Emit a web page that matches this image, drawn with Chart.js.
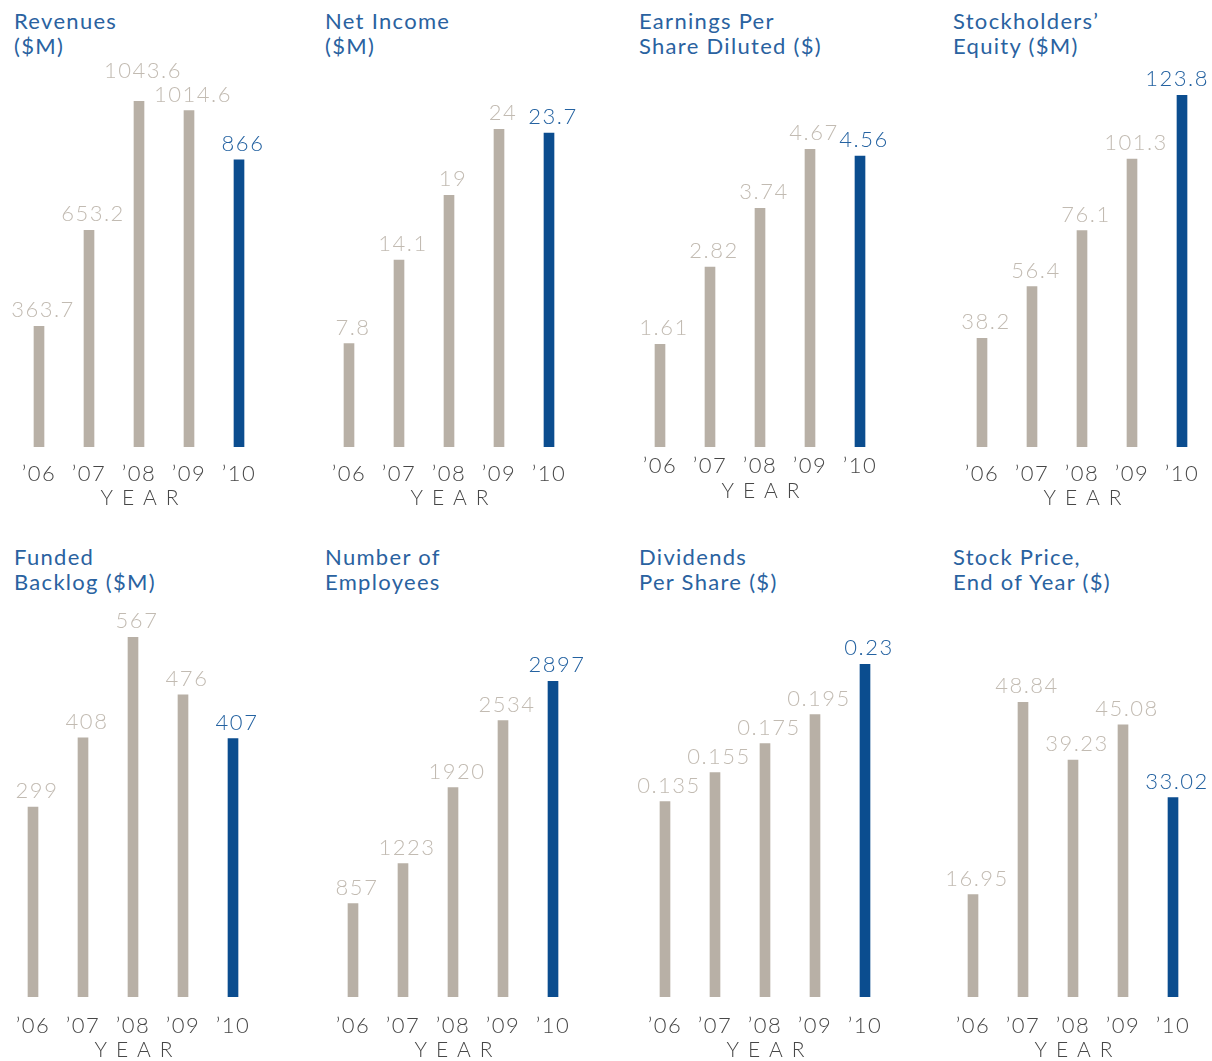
<!DOCTYPE html>
<html>
<head>
<meta charset="utf-8">
<script src="https://cdn.jsdelivr.net/npm/chart.js@4.4.0/dist/chart.umd.min.js"></script>
<style>
  body { margin: 0; width: 1212px; height: 1061px; background: #fff; position: relative; overflow: hidden; }
  .ttl { position: absolute; font-family: Lato, sans-serif; font-size: 22px; line-height: 25px; letter-spacing: 1.3px; color: #2a62a0; white-space: nowrap; }
  canvas { position: absolute; }
</style>
</head>
<body>
<script>
var years = ['\u201906', '\u201907', '\u201908', '\u201909', '\u201910'];

var revenues   = [363.7, 653.2, 1043.6, 1014.6, 866];
var netIncome  = [7.8, 14.1, 19, 24, 23.7];
var eps        = [1.61, 2.82, 3.74, 4.67, 4.56];
var equity     = [38.2, 56.4, 76.1, 101.3, 123.8];
var backlog    = [299, 408, 567, 476, 407];
var employees  = [857, 1223, 1920, 2534, 2897];
var dividends  = [0.135, 0.155, 0.175, 0.195, 0.23];
var stockPrice = [16.95, 48.84, 39.23, 45.08, 33.02];

var GREY = '#b8b0a6';
var BLUE = '#0b4d8f';
var GREY_TXT = '#c2bbb2';
var BLUE_TXT = '#2462a1';
var DARK = '#474747';

// panel layout: title pos, first bar centre, baseline, top of tallest bar, tick/year offsets
var panels = [
  {title: ['Revenues', '($M)'],                 data: revenues,   tx: 14,  ty: 8,   x0: 39,  base: 447, top: 101, tick: 27, year: 51, lift: [0, 0, 14, 0, 0]},
  {title: ['Net Income', '($M)'],               data: netIncome,  tx: 325, ty: 8,   x0: 349, base: 447, top: 129, tick: 27, year: 51},
  {title: ['Earnings Per', 'Share Diluted ($)'],data: eps,        tx: 639, ty: 8,   x0: 660, base: 447, top: 149, tick: 19, year: 44},
  {title: ['Stockholders\u2019', 'Equity ($M)'],data: equity,     tx: 953, ty: 8,   x0: 982, base: 447, top: 95,  tick: 27, year: 51},
  {title: ['Funded', 'Backlog ($M)'],           data: backlog,    tx: 14,  ty: 544, x0: 33,  base: 997, top: 637, tick: 29, year: 53},
  {title: ['Number of', 'Employees'],           data: employees,  tx: 325, ty: 544, x0: 353, base: 997, top: 681, tick: 29, year: 53},
  {title: ['Dividends', 'Per Share ($)'],       data: dividends,  tx: 639, ty: 544, x0: 665, base: 997, top: 664, tick: 29, year: 53},
  {title: ['Stock Price,', 'End of Year ($)'],  data: stockPrice, tx: 953, ty: 544, x0: 973, base: 997, top: 702, tick: 29, year: 53}
];

// value labels over bars + spaced "YEAR" caption
var valueLabels = {
  id: 'valueLabels',
  beforeDraw: function(chart) {
    chart.ctx.letterSpacing = '1.5px';
  },
  afterDatasetsDraw: function(chart, args, opts) {
    var ctx = chart.ctx;
    var meta = chart.getDatasetMeta(0);
    var data = chart.data.datasets[0].data;
    var lift = opts.lift || [];
    ctx.save();
    ctx.font = '300 22px Lato';
    ctx.letterSpacing = '1.5px';
    ctx.textAlign = 'center';
    ctx.textBaseline = 'alphabetic';
    meta.data.forEach(function(bar, i) {
      var txt = String(data[i]);
      var w = ctx.measureText(txt).width;
      var x = Math.min(bar.x + 4, opts.rightLimit - w / 2);
      ctx.fillStyle = i === data.length - 1 ? BLUE_TXT : GREY_TXT;
      ctx.fillText(txt, x, bar.y - 9 - (lift[i] || 0));
    });
    var mid = meta.data[2];
    ctx.font = '300 21px Lato';
    ctx.fillStyle = DARK;
    ctx.letterSpacing = '9px';
    ctx.textBaseline = 'middle';
    ctx.fillText('YEAR', mid.x + 5, chart.chartArea.bottom + opts.yearOffset);
    ctx.restore();
  }
};

panels.forEach(function(p) {
  var t = document.createElement('div');
  t.className = 'ttl';
  t.style.left = p.tx + 'px';
  t.style.top = p.ty + 'px';
  t.innerHTML = p.title.join('<br>');
  document.body.appendChild(t);

  var cLeft = p.x0 - 55;
  var cTop = p.base < 600 ? 50 : 590;
  var cH = p.base < 600 ? 465 : 471;
  var cv = document.createElement('canvas');
  cv.style.left = cLeft + 'px';
  cv.style.top = cTop + 'px';
  cv.style.width = '310px';
  cv.style.height = cH + 'px';
  cv.width = 310; cv.height = cH;
  document.body.appendChild(cv);

  var colors = p.data.map(function(v, i) { return i === p.data.length - 1 ? BLUE : GREY; });
  var axisH = cTop + cH - p.base;

  new Chart(cv, {
    type: 'bar',
    data: {
      labels: years,
      datasets: [{ data: p.data, backgroundColor: colors, barThickness: 10, borderWidth: 0 }]
    },
    options: {
      responsive: false,
      animation: false,
      layout: { padding: { top: p.top - cTop, left: 30, right: 30, bottom: 0 } },
      plugins: {
        legend: { display: false },
        tooltip: { enabled: false },
        valueLabels: { yearOffset: p.year, lift: p.lift, rightLimit: 1209 - cLeft }
      },
      scales: {
        x: {
          grid: { display: false, drawTicks: false },
          border: { display: false },
          ticks: { color: DARK, font: { family: 'Lato', size: 22, weight: '300' }, padding: p.tick - 13 },
          afterFit: function(s) { s.height = axisH; }
        },
        y: { display: false, min: 0, max: Math.max.apply(null, p.data) }
      }
    },
    plugins: [valueLabels]
  });
});
</script>
</body>
</html>
